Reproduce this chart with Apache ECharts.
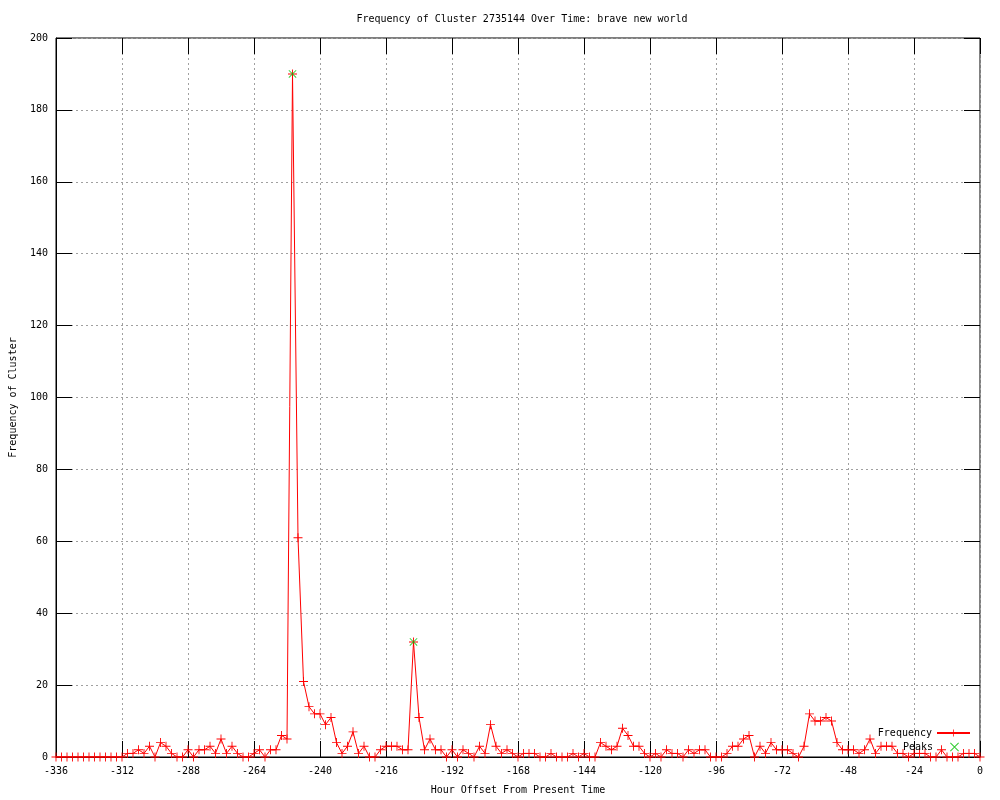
<!DOCTYPE html>
<html>
<head>
<meta charset="utf-8">
<script src="https://cdn.jsdelivr.net/npm/echarts@6/dist/echarts.min.js"></script>
<style>
html,body{margin:0;padding:0;background:#fff;overflow:hidden;}
#chart{width:1000px;height:800px;}
</style>
</head>
<body>
<div id="chart"></div>
<script>
var hours = [
 -336,-334,-332,-330,-328,-326,-324,-322,-320,-318,-316,-314,
 -312,-310,-308,-306,-304,-302,-300,-298,-296,-294,-292,-290,
 -288,-286,-284,-282,-280,-278,-276,-274,-272,-270,-268,-266,
 -264,-262,-260,-258,-256,-254,-252,-250,-248,-246,-244,-242,
 -240,-238,-236,-234,-232,-230,-228,-226,-224,-222,-220,-218,
 -216,-214,-212,-210,-208,-206,-204,-202,-200,-198,-196,-194,
 -192,-190,-188,-186,-184,-182,-180,-178,-176,-174,-172,-170,
 -168,-166,-164,-162,-160,-158,-156,-154,-152,-150,-148,-146,
 -144,-142,-140,-138,-136,-134,-132,-130,-128,-126,-124,-122,
 -120,-118,-116,-114,-112,-110,-108,-106,-104,-102,-100,-98,
 -96,-94,-92,-90,-88,-86,-84,-82,-80,-78,-76,-74,
 -72,-70,-68,-66,-64,-62,-60,-58,-56,-54,-52,-50,
 -48,-46,-44,-42,-40,-38,-36,-34,-32,-30,-28,-26,
 -24,-22,-20,-18,-16,-14,-12,-10,-8,-6,-4,-2,
 0
];
var frequency = [
 0,0,0,0,0,0,0,0,0,0,0,0,
 0,1,1,2,1,3,0,4,3,1,0,0,
 2,0,2,2,3,1,5,1,3,1,0,0,
 1,2,0,2,2,6,5,190,61,21,14,12,
 12,9,11,4,1,3,7,1,3,0,0,2,
 3,3,3,2,2,32,11,2,5,2,2,0,
 2,0,2,1,0,3,1,9,3,1,2,1,
 0,1,1,1,0,0,1,0,0,0,1,0,
 1,0,0,4,3,2,3,8,6,3,3,1,
 0,1,0,2,1,1,0,2,1,2,2,0,
 0,0,1,3,3,5,6,0,3,1,4,2,
 2,2,1,0,3,12,10,10,11,10,4,2,
 2,2,1,2,5,1,3,3,3,1,1,0,
 1,1,1,0,0,2,0,0,0,1,1,1,
 0
];
var peakHours = [-250, -206];
var peakValues = [190, 32];

var FONT = 'DejaVu Sans Mono';
var plusPath = 'path://M0,4.5L10,4.5L10,5.5L0,5.5ZM4.5,0L5.5,0L5.5,10L4.5,10Z';
var crossPath = 'path://M0,0.8L0.8,0L10,9.2L9.2,10ZM9.2,0L10,0.8L0.8,10L0,9.2Z';

var freqData = hours.map(function (h, i) { return [h, frequency[i]]; });
var peakData = peakHours.map(function (h, i) { return [h, peakValues[i]]; });

var chart = echarts.init(document.getElementById('chart'), null, {renderer: 'canvas', width: 1000, height: 800});
var textStyle = {fontFamily: FONT, fontSize: 10, color: '#000'};
var gridLine = {show: true, lineStyle: {color: '#a0a0a0', type: [2, 3], width: 1}};
var tick = {show: true, inside: true, length: 16, lineStyle: {color: '#000'}};
chart.setOption({
  animation: false,
  backgroundColor: '#fff',
  textStyle: textStyle,
  title: {
    text: 'Frequency of Cluster 2735144 Over Time: brave new world',
    left: 517, top: 9, textAlign: 'center',
    textStyle: {fontFamily: FONT, fontSize: 10, fontWeight: 'normal', color: '#000'}
  },
  grid: {left: 55, top: 38, width: 925, height: 722, show: true, borderColor: '#000', borderWidth: 1, backgroundColor: 'transparent'},
  legend: [{
    data: ['Frequency'], orient: 'vertical', align: 'right', right: 24, top: 723,
    itemWidth: 33, itemHeight: 9,
    textStyle: {fontFamily: FONT, fontSize: 10, color: '#000'}
  }, {
    data: ['Peaks'], orient: 'vertical', align: 'right', right: 36, top: 737,
    itemWidth: 33, itemHeight: 9,
    textStyle: {fontFamily: FONT, fontSize: 10, color: '#000'}
  }],
  xAxis: [{
    type: 'value', min: -336, max: 0, interval: 24,
    name: 'Hour Offset From Present Time', nameLocation: 'middle', nameGap: 28,
    nameTextStyle: {fontFamily: FONT, fontSize: 10, color: '#000'},
    axisLine: {show: true, onZero: false, lineStyle: {color: '#000'}},
    axisTick: tick,
    axisLabel: {fontFamily: FONT, fontSize: 10, color: '#000', margin: 9},
    splitLine: gridLine
  }, {
    type: 'value', min: -336, max: 0, interval: 24, position: 'top',
    axisLine: {show: false, onZero: false},
    axisTick: tick,
    axisLabel: {show: false}, splitLine: {show: false}
  }],
  yAxis: [{
    type: 'value', min: 0, max: 200, interval: 20, position: 'left',
    name: 'Frequency of Cluster', nameLocation: 'middle', nameGap: 38,
    nameTextStyle: {fontFamily: FONT, fontSize: 10, color: '#000'},
    axisLine: {show: true, onZero: false, lineStyle: {color: '#000'}},
    axisTick: tick,
    axisLabel: {fontFamily: FONT, fontSize: 10, color: '#000', margin: 8},
    splitLine: gridLine
  }, {
    type: 'value', min: 0, max: 200, interval: 20, position: 'right',
    axisLine: {show: false, onZero: false},
    axisTick: tick,
    axisLabel: {show: false}, splitLine: {show: false}
  }],
  series: [{
    name: 'Frequency', type: 'line', data: freqData,
    symbol: plusPath, symbolSize: 9, showAllSymbol: true,
    lineStyle: {color: '#ff0000', width: 1},
    itemStyle: {color: '#ff0000'},
    z: 3
  }, {
    name: 'Peaks', type: 'scatter', data: peakData,
    symbol: crossPath, symbolSize: 8,
    itemStyle: {color: '#00c000'},
    z: 4
  }]
});
</script>
</body>
</html>
